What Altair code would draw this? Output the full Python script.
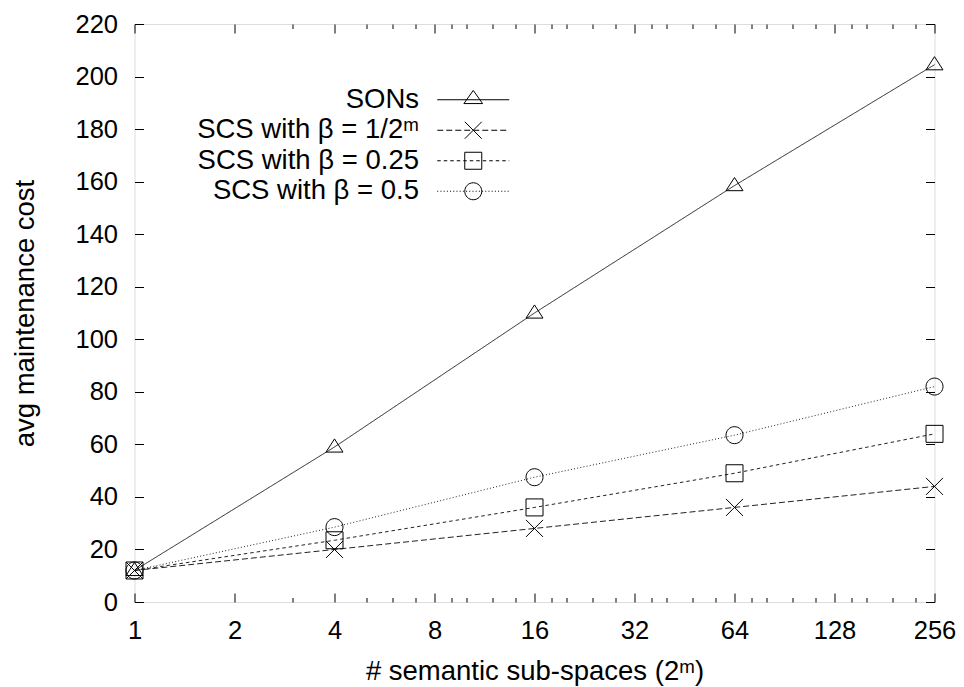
import altair as alt
import pandas as pd

# ---- data ----
x_vals = [1, 4, 16, 64, 256]
series_names = ["SONs", "SCS with β = 1/2ᵐ", "SCS with β = 0.25", "SCS with β = 0.5"]
sons = [12, 59, 110, 158.5, 204.5]
scs_m = [12, 20, 28, 36, 44]
scs_025 = [12, 23.5, 36, 49, 64]
scs_05 = [12, 28.5, 47.5, 63.5, 82]

x_major = [1, 2, 4, 8, 16, 32, 64, 128, 256]
x_minor = [3, 5, 6, 7, 9, 10, 12, 14, 18, 20, 24, 28, 36, 40, 48, 56,
           72, 80, 96, 112, 144, 160, 192, 224]
y_ticks = [0, 20, 40, 60, 80, 100, 120, 140, 160, 180, 200, 220]

x_title = "# semantic sub-spaces (2ᵐ)"
y_title = "avg maintenance cost"

rows = []
for name, vals in zip(series_names, [sons, scs_m, scs_025, scs_05]):
    for xv, yv in zip(x_vals, vals):
        rows.append({"x": xv, "y": yv, "series": name})
df = pd.DataFrame(rows)

# ---- styles ----
FONT = "Liberation Sans"
FS_TICK = 25.5
FS_XT = 27.5
FS_YT = 27.5
FS_LEG = 27.5
W, H = 800, 578
dash_ranges = [[1, 0], [6, 3], [3.5, 3], [1, 2.2]]

TRI = "M0,-0.95L1,0.6L-1,0.6Z"
XMARK = "M-1,-1L1,1M-1,1L1,-1"
SQ = "M-1,-1L1,-1L1,1L-1,1Z"
CIRC = "M1,0A1,1,0,1,1,-1,0A1,1,0,1,1,1,0Z"
point_shapes = [TRI, XMARK, SQ, CIRC]

U = 8.5       # px per path unit for size 289
HALF = 36.0   # half length of legend sample line, px
SHIFT = 68.0  # legend sample drawn this far right of the symbol anchor, px


def fx(px):
    return "%.3f" % ((px + SHIFT) / U)


def dashed(on, off):
    segs = []
    p = -HALF
    while p < HALF - 0.01:
        e = min(p + on, HALF)
        segs.append("M%s,0L%s,0" % (fx(p), fx(e)))
        p = e + off
    return "".join(segs)


def marker(path_pts):
    out = []
    for cmd, x, y in path_pts:
        if cmd == "Z":
            out.append("Z")
        else:
            out.append("%s%s,%.3f" % (cmd, fx(x * U), y))
    return "".join(out)


tri_leg = marker([("M", 0, -1.1), ("L", 1.1, 0.45), ("L", -1.1, 0.45), ("Z", 0, 0)])
x_leg = marker([("M", -1, -1), ("L", 1, 1), ("M", -1, 1), ("L", 1, -1)])
sq_leg = marker([("M", -1, -1), ("L", 1, -1), ("L", 1, 1), ("L", -1, 1), ("Z", 0, 0)])
circ_leg = "M%s,0A1,1,0,1,1,%s,0A1,1,0,1,1,%s,0Z" % (fx(U), fx(-U), fx(U))

legend_shapes = [
    dashed(1000, 0) + tri_leg,
    dashed(6, 3) + x_leg,
    dashed(3.5, 3) + sq_leg,
    dashed(1, 2.2) + circ_leg,
]

xscale = alt.Scale(type="log", base=2, domain=[1, 256], nice=False)
yscale = alt.Scale(domain=[0, 220], nice=False)

tick_common = dict(domain=False, grid=False, tickColor="black", tickWidth=1)

x_bottom = alt.Axis(orient="bottom", values=x_major, format="d", tickSize=9, offset=-9,
                    labelPadding=36, labelBaseline="alphabetic",
                    labelFontSize=FS_TICK, labelFont=FONT, labelColor="black",
                    labelFlush=False, labelOverlap=False,
                    title=x_title, titleFont=FONT, titleFontSize=FS_XT, titleFontWeight="normal",
                    titleColor="black", titleBaseline="alphabetic", titleAlign="center",
                    titleX=W / 2, titleY=86, **tick_common)
x_top = alt.Axis(orient="top", values=x_major, tickSize=9, offset=-9, labels=False,
                 title=None, **tick_common)
x_minor_bottom = alt.Axis(orient="bottom", values=x_minor, tickSize=4.5, offset=-4.5,
                          labels=False, title=None, **tick_common)
x_minor_top = alt.Axis(orient="top", values=x_minor, tickSize=4.5, offset=-4.5,
                       labels=False, title=None, **tick_common)
y_left = alt.Axis(orient="left", values=y_ticks, format="d", tickSize=9, offset=-9,
                  labelPadding=17, labelFontSize=FS_TICK, labelFont=FONT, labelColor="black",
                  labelFlush=False, labelOverlap=False,
                  title=y_title, titleFont=FONT, titleFontSize=FS_YT, titleFontWeight="normal",
                  titleColor="black", titleBaseline="alphabetic", titleAlign="center",
                  titleAngle=270, titleX=-110.5, titleY=H / 2, **tick_common)
y_right = alt.Axis(orient="right", values=y_ticks, tickSize=9, offset=-9, labels=False,
                   title=None, **tick_common)

base = alt.Chart(df)

lines = base.mark_line(color="#222222", strokeWidth=1).encode(
    x=alt.X("x:Q", scale=xscale, axis=x_bottom),
    y=alt.Y("y:Q", scale=yscale, axis=y_left),
    strokeDash=alt.StrokeDash("series:N", scale=alt.Scale(domain=series_names, range=dash_ranges),
                              legend=None),
    detail="series:N",
)

points = base.mark_point(filled=False, color="black", size=289, strokeWidth=1, opacity=1).encode(
    x=alt.X("x:Q", scale=xscale, axis=x_top),
    y=alt.Y("y:Q", scale=yscale, axis=y_right),
    shape=alt.Shape("series:N", scale=alt.Scale(domain=series_names, range=point_shapes),
                    legend=None),
)

legend_layer = base.transform_filter("false").mark_point(
    filled=False, color="black", size=289, strokeWidth=1, opacity=1
).encode(
    x=alt.X("x:Q", scale=xscale, axis=x_minor_bottom),
    shape=alt.Shape("series:N", scale=alt.Scale(domain=series_names, range=legend_shapes),
                    legend=alt.Legend(title=None, orient="none", legendX=257, legendY=62,
                                      labelAlign="right", labelOffset=0, symbolOffset=0,
                                      labelFontSize=FS_LEG, labelFont=FONT, labelColor="black",
                                      labelLimit=500, rowPadding=1.5, symbolSize=289,
                                      symbolStrokeWidth=1, symbolStrokeColor="black",
                                      symbolFillColor="transparent", padding=0)),
)

minor_top = base.transform_filter("false").mark_point(opacity=0).encode(
    x=alt.X("x:Q", scale=xscale, axis=x_minor_top),
)

chart = (
    alt.layer(lines, points, legend_layer, minor_top)
    .resolve_scale(shape="independent", strokeDash="independent")
    .resolve_axis(x="independent", y="independent")
    .properties(width=W, height=H, autosize="none",
                padding={"left": 126.5, "top": 16, "right": 21.5, "bottom": 85},
                background="white")
    .configure_view(stroke="black", strokeWidth=1)
    .configure(font=FONT)
)

chart.save("out.html", embed_options={"renderer": "svg", "actions": False})
